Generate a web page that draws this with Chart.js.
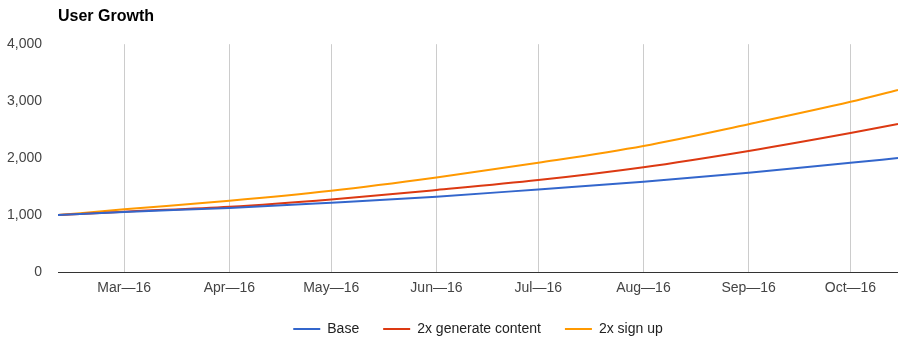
<!DOCTYPE html>
<html>
<head>
<meta charset="utf-8">
<script src="https://cdn.jsdelivr.net/npm/chart.js@4.4.1/dist/chart.umd.min.js"></script>
<style>
  html, body { margin: 0; padding: 0; background: #fff; }
  #wrap { width: 913px; height: 349px; position: relative; }
</style>
</head>
<body>
<div id="wrap"><canvas id="growth"></canvas></div>
<script>
// Days counted from 1 March 2016
const sampleDays = [-19.5, 0, 31, 61, 92, 122, 153, 184, 214, 228];
const monthStarts = [0, 31, 61, 92, 122, 153, 184, 214];
const monthLabels = ['Mar\u201416', 'Apr\u201416', 'May\u201416', 'Jun\u201416', 'Jul\u201416', 'Aug\u201416', 'Sep\u201416', 'Oct\u201416'];

// Users per scenario at each sample day
const baseUsers            = [1000, 1055, 1123, 1216, 1322, 1450, 1585, 1743, 1918, 2000];
const generateContentUsers = [1000, 1060, 1146, 1275, 1440, 1614, 1840, 2126, 2440, 2598];
const signUpUsers          = [1000, 1100, 1251, 1427, 1660, 1918, 2213, 2596, 2988, 3195];

const yMin = 0, yMax = 4000, yStep = 1000;

const FONT = '"Liberation Sans", Arial, sans-serif';

function points(values) {
  return sampleDays.map((d, i) => ({ x: d, y: values[i] }));
}

function series(label, values, color) {
  return {
    label,
    data: points(values),
    borderColor: color,
    backgroundColor: color,
    borderWidth: 2,
    pointRadius: 0,
    pointHoverRadius: 0,
    cubicInterpolationMode: 'monotone',
    fill: false
  };
}

new Chart(document.getElementById('growth'), {
  type: 'line',
  data: {
    datasets: [
      series('Base', baseUsers, '#3366cc'),
      series('2x generate content', generateContentUsers, '#dc3912'),
      series('2x sign up', signUpUsers, '#ff9900')
    ]
  },
  options: {
    responsive: true,
    maintainAspectRatio: false,
    animation: false,
    events: [],
    layout: { padding: { left: 7, right: 15, top: 0, bottom: 3 } },
    font: { family: FONT },
    scales: {
      x: {
        type: 'linear',
        min: sampleDays[0],
        max: sampleDays[sampleDays.length - 1],
        afterBuildTicks: (scale) => {
          scale.ticks = monthStarts.map(v => ({ value: v }));
        },
        afterFit: (scale) => { scale.height = 26; },
        border: { display: false },
        grid: { color: '#cccccc', lineWidth: 1, drawTicks: false },
        ticks: {
          autoSkip: false,
          maxRotation: 0,
          padding: 8,
          color: '#444',
          font: { family: FONT, size: 14 },
          callback: (v) => monthLabels[monthStarts.indexOf(v)]
        }
      },
      y: {
        min: yMin,
        max: yMax,
        afterFit: (scale) => { scale.width = 51; },
        border: { display: false },
        grid: {
          drawTicks: false,
          lineWidth: 1,
          color: (ctx) => (ctx.tick && ctx.tick.value === 0 ? '#333333' : 'rgba(0,0,0,0)')
        },
        ticks: {
          stepSize: yStep,
          padding: 16,
          color: '#444',
          font: { family: FONT, size: 14 },
          callback: (v) => v.toLocaleString('en-US')
        }
      }
    },
    plugins: {
      title: {
        display: true,
        text: 'User Growth',
        align: 'start',
        fullSize: false,
        color: '#000',
        font: { family: FONT, size: 16, weight: 'bold' },
        padding: { top: 7, bottom: 18 }
      },
      legend: {
        position: 'bottom',
        fullSize: false,
        labels: {
          usePointStyle: true,
          pointStyle: 'line',
          pointStyleWidth: 27,
          padding: 24,
          color: '#222',
          font: { family: FONT, size: 14 }
        }
      },
      tooltip: { enabled: false }
    }
  }
});
</script>
</body>
</html>
